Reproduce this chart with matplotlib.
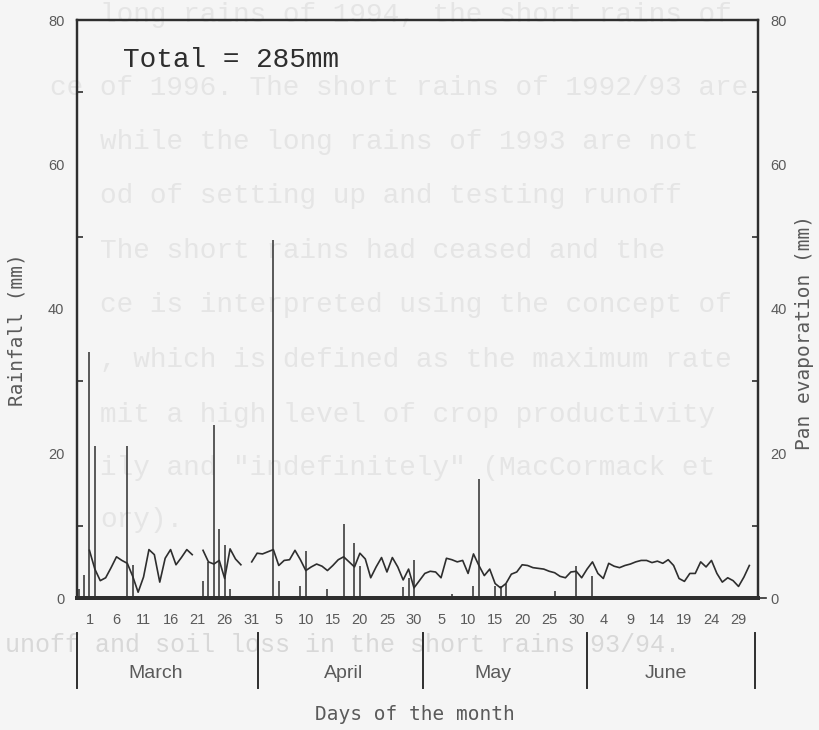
import numpy as np
import matplotlib
matplotlib.use("Agg")
import matplotlib.pyplot as plt
import matplotlib.transforms as mtransforms

# daily rainfall (mm), day 1 = 1 March
rain_day = [-1, 0, 1, 2, 8, 9, 22, 23, 24, 25, 26, 27, 35, 36, 40, 41, 45, 48,
            50, 51, 59, 60, 61, 68, 72, 73, 76, 77, 78, 87, 91, 94]
rain_mm = [1.2, 3.2, 34.0, 21.0, 21.0, 4.5, 2.3, 5.0, 24.0, 9.5, 7.3, 1.3, 49.5,
           2.3, 1.6, 6.5, 1.2, 10.3, 7.6, 4.4, 1.5, 2.8, 5.2, 0.6, 1.6, 16.5,
           1.6, 1.6, 2.0, 1.0, 4.4, 3.0]

# daily pan evaporation (mm), days 1..123, nan = no reading
evap_mm = [6.6, 4.0, 2.4, 2.8, 4.2, 5.7, 5.2, 4.8, 3.0, 0.8,
           2.9, 6.7, 6.0, 2.2, 5.5, 6.7, 4.6, 5.6, 6.7, 6.0,
           np.nan, 6.6, 5.0, 4.7, 5.2, 2.7, 6.8, 5.4, 4.6, np.nan,
           5.0, 6.2, 6.1, 6.4, 6.7, 4.5, 5.2, 5.3, 6.6, 5.3,
           3.8, 4.3, 4.7, 4.4, 3.8, 4.5, 5.3, 5.7, 5.0, 4.3,
           6.2, 5.4, 2.8, 4.3, 5.6, 3.6, 5.6, 4.3, 2.5, 4.0,
           1.4, 2.4, 3.4, 3.7, 3.6, 2.8, 5.5, 5.3, 5.0, 5.2,
           3.4, 6.1, 4.5, 3.1, 4.0, 2.0, 1.4, 2.0, 3.3, 3.6,
           4.6, 4.5, 4.2, 4.1, 4.0, 3.7, 3.5, 3.0, 2.8, 3.6,
           3.7, 2.8, 4.0, 5.0, 3.4, 2.7, 4.8, 4.4, 4.2, 4.5,
           4.7, 5.0, 5.2, 5.2, 4.9, 5.1, 4.8, 5.3, 4.5, 2.7,
           2.3, 3.4, 3.4, 5.0, 4.3, 5.2, 3.4, 2.2, 2.8, 2.4,
           1.6, 2.9, 4.5]
evap_day = np.arange(1, len(evap_mm) + 1)

tick_days = list(range(1, 122, 5))
tick_labels = ['1', '6', '11', '16', '21', '26', '31',
               '5', '10', '15', '20', '25', '30',
               '5', '10', '15', '20', '25', '30',
               '4', '9', '14', '19', '24', '29']
months = ['March', 'April', 'May', 'June']
month_mid = [13.2, 48.0, 75.5, 107.5]
month_edges = [-1.3, 32.2, 62.7, 93.0, 124.1]

ink = '#2e2e2e'
grey = '#5a5a5a'
paper = '#f5f5f5'

fig = plt.figure(figsize=(8.2, 7.3), dpi=100, facecolor=paper)

# faint type showing through from the other side of the sheet
ghost = [
    (100, 15, 'long rains of 1994, the short rains of'),
    (50, 88, 'ce of 1996. The short rains of 1992/93 are'),
    (100, 142, 'while the long rains of 1993 are not'),
    (100, 196, 'od of setting up and testing runoff'),
    (100, 251, 'The short rains had ceased and the'),
    (100, 305, 'ce is interpreted using the concept of'),
    (100, 360, ', which is defined as the maximum rate'),
    (100, 415, 'mit a high level of crop productivity'),
    (100, 468, 'ily and "indefinitely" (MacCormack et'),
    (100, 520, 'ory).'),
]
for gx, gy, s in ghost:
    fig.text(gx / 820, 1 - gy / 730, s, fontsize=20, family='Liberation Mono',
             color='#e5e5e5', va='center', ha='left', zorder=-5)
fig.text(5 / 820, 1 - 645 / 730, 'unoff and soil loss in the short rains 93/94.',
         fontsize=18, family='Liberation Mono', color='#d8d8d8', va='center',
         ha='left', zorder=-5)

ax = fig.add_axes([77 / 820, 1 - 598 / 730, (758 - 77) / 820, (598 - 20) / 730])
ax.patch.set_alpha(0)
ax.set_xlim(-1.3, 124.6)
ax.set_ylim(0, 80)

ax.vlines(rain_day, 0, rain_mm, colors=ink, linewidth=1.1)

ax2 = ax.twinx()
ax2.set_ylim(0, 80)
ax2.plot(evap_day, evap_mm, color=ink, linewidth=1.2)

for a in (ax, ax2):
    for side in ('left', 'right', 'top'):
        a.spines[side].set_color(ink)
        a.spines[side].set_linewidth(1.6)
    a.spines['bottom'].set_color(ink)
    a.spines['bottom'].set_linewidth(2.8)
    a.set_yticks([0, 20, 40, 60, 80])
    a.set_yticks([10, 30, 50, 70], minor=True)
    a.tick_params(axis='y', which='major', length=0, pad=9, labelsize=10.5,
                  labelcolor=grey)
    a.tick_params(axis='y', which='minor', direction='in', length=4, width=1.2,
                  color=ink)

ax.set_xticks(tick_days)
ax.set_xticklabels(tick_labels, family='Liberation Sans')
ax.tick_params(axis='x', length=0, pad=11, labelsize=10.5, labelcolor=grey)
for lab in ax.get_yticklabels() + ax2.get_yticklabels():
    lab.set_family('Liberation Sans')

# short outward tick at the right-hand zero
ax.plot([1.0, 1.012], [0, 0], transform=ax.transAxes, color=ink,
        linewidth=1.2, clip_on=False)

ax.text(0.0675, 0.93, 'Total = 285mm', transform=ax.transAxes,
        fontsize=20, family='Liberation Mono', color=ink, va='center')

# month bands under the day numbers
band = mtransforms.blended_transform_factory(ax.transData, ax.transAxes)
for e in month_edges:
    ax.plot([e, e], [-0.0606, -0.1557], transform=band, color=ink,
            linewidth=1.4, clip_on=False)
for m, xm in zip(months, month_mid):
    ax.text(xm, -0.13, m, transform=band, ha='center', va='center',
            fontsize=14, family='Liberation Sans', color=grey)

fig.text(415 / 820, 1 - 715 / 730, 'Days of the month', ha='center', va='center',
         fontsize=14, family='DejaVu Sans Mono', color=grey)
fig.text(17 / 820, 1 - 330 / 730, 'Rainfall (mm)', rotation=90, ha='center',
         va='center', fontsize=14, family='DejaVu Sans Mono', color=grey)
fig.text(805 / 820, 1 - 333 / 730, 'Pan evaporation (mm)', rotation=90,
         ha='center', va='center', fontsize=14, family='DejaVu Sans Mono',
         color=grey)

fig.savefig('out.png', dpi=100, facecolor=paper)
